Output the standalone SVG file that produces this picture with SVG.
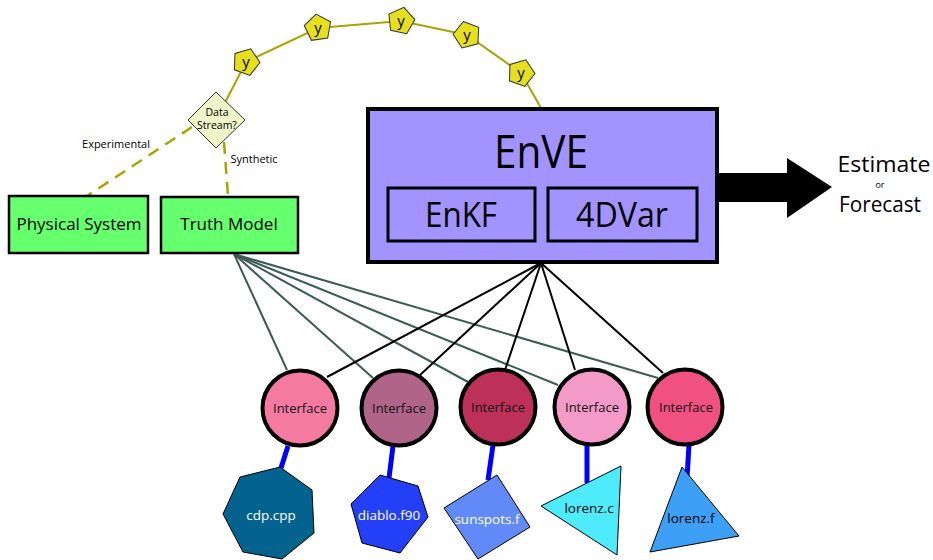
<svg xmlns="http://www.w3.org/2000/svg" width="933" height="560" viewBox="0 0 933 560">
<defs>
<style>
text{font-family:"Open Sans","Noto Sans","DejaVu Sans",sans-serif;text-anchor:middle}
.olive{stroke:#a8a400;stroke-width:2;fill:none}
.dash{stroke:#a8a400;stroke-width:2.5;fill:none;stroke-dasharray:12 8}
.tm{stroke:#3b5b55;stroke-width:2;fill:none}
.ev{stroke:#000;stroke-width:2;fill:none}
.blue{stroke:#0000ff;stroke-width:5;fill:none}
.pent{fill:#e5df1e;stroke:#333;stroke-width:1}
.green{fill:#66ff6e;stroke:#000;stroke-width:2.5}
.iface{stroke:#000;stroke-width:4}
.leaf{stroke:#000;stroke-width:1}
.lbl{font-size:11px;fill:#000}
.ift{font-size:13px;fill:#111}
.wt{font-size:13.5px;fill:#fff}
.bt{font-size:13.5px;fill:#000}
</style>
<path id="pg" d="M0,-14 L13.3,-4.3 L8.2,11.3 L-8.2,11.3 L-13.3,-4.3 Z"/>
</defs>

<g id="connectors">
<polyline class="olive" points="216,120 246,62 318,28 401,21 467,35 521,73 541,108"/>
<line class="dash" x1="192" y1="127" x2="87" y2="196"/>
<line class="dash" x1="224" y1="142" x2="228" y2="196"/>
<line class="tm" x1="234" y1="254" x2="287" y2="370"/>
<line class="tm" x1="234" y1="254" x2="373" y2="378"/>
<line class="tm" x1="234" y1="254" x2="468" y2="382"/>
<line class="tm" x1="234" y1="254" x2="558" y2="385"/>
<line class="tm" x1="234" y1="254" x2="658" y2="378"/>
<line class="ev" x1="541" y1="263" x2="327" y2="377"/>
<line class="ev" x1="541" y1="263" x2="420" y2="375"/>
<line class="ev" x1="541" y1="263" x2="505" y2="370"/>
<line class="ev" x1="541" y1="263" x2="575" y2="370"/>
<line class="ev" x1="541" y1="263" x2="663" y2="373"/>
<line class="blue" x1="288" y1="446" x2="281" y2="468"/>
<line class="blue" x1="393" y1="446" x2="389" y2="478"/>
<line class="blue" x1="493" y1="445" x2="488" y2="480"/>
<line class="blue" x1="587" y1="445" x2="587" y2="483"/>
<line class="blue" x1="689" y1="445" x2="687" y2="478"/>
</g>

<g id="y1"><use href="#pg" class="pent" transform="translate(246,62) rotate(20)"/><text x="246" y="67" font-size="15">y</text></g>
<g id="y2"><use href="#pg" class="pent" transform="translate(318,28) rotate(-8)"/><text x="318" y="33" font-size="15">y</text></g>
<g id="y3"><use href="#pg" class="pent" transform="translate(401,21) rotate(12)"/><text x="401" y="26" font-size="15">y</text></g>
<g id="y4"><use href="#pg" class="pent" transform="translate(467,35) rotate(-15)"/><text x="467" y="40" font-size="15">y</text></g>
<g id="y5"><use href="#pg" class="pent" transform="translate(521,73) rotate(20)"/><text x="521" y="78" font-size="15">y</text></g>

<g id="datastream">
<polygon points="216,92 245,120 216,148 188,120" fill="#eef5c8" stroke="#333" stroke-width="1"/>
<text x="217" y="116" font-size="10.5">Data</text>
<text x="217" y="129" font-size="10.5">Stream?</text>
</g>
<text class="lbl" x="116" y="148">Experimental</text>
<text class="lbl" x="254" y="163">Synthetic</text>

<g id="physical">
<rect class="green" x="9" y="196" width="139" height="57"/>
<text x="79" y="230" font-size="17">Physical System</text>
</g>
<g id="truth">
<rect class="green" x="161" y="197" width="137" height="56"/>
<text x="229" y="230" font-size="17">Truth Model</text>
</g>

<g id="enve">
<rect x="368" y="109" width="349" height="153" fill="#a293ff" stroke="#000" stroke-width="4"/>
<text x="541" y="168" font-size="46" textLength="94" lengthAdjust="spacingAndGlyphs">EnVE</text>
</g>
<g id="enkf">
<rect x="388" y="188" width="147" height="53" fill="#a293ff" stroke="#000" stroke-width="3"/>
<text x="461" y="227" font-size="34" textLength="72" lengthAdjust="spacingAndGlyphs">EnKF</text>
</g>
<g id="fourdvar">
<rect x="548" y="188" width="149" height="53" fill="#a293ff" stroke="#000" stroke-width="3"/>
<text x="622" y="227" font-size="34" textLength="92" lengthAdjust="spacingAndGlyphs">4DVar</text>
</g>

<g id="output">
<polygon points="717,173 787,173 787,158 832,187 787,218 787,202 717,202" fill="#000"/>
<text x="884" y="172" font-size="21" textLength="93" lengthAdjust="spacingAndGlyphs">Estimate</text>
<text x="880" y="188" font-size="9">or</text>
<text x="880" y="212" font-size="21" textLength="82" lengthAdjust="spacingAndGlyphs">Forecast</text>
</g>

<g id="if1"><circle class="iface" cx="300" cy="408" r="37.5" fill="#f57aa2"/><text class="ift" x="300" y="413">Interface</text></g>
<g id="if2"><circle class="iface" cx="399" cy="408" r="37.5" fill="#b0648a"/><text class="ift" x="399" y="413">Interface</text></g>
<g id="if3"><circle class="iface" cx="498" cy="407" r="37.5" fill="#bd3159"/><text class="ift" x="498" y="412">Interface</text></g>
<g id="if4"><circle class="iface" cx="592" cy="407" r="37.5" fill="#f39ac9"/><text class="ift" x="592" y="412">Interface</text></g>
<g id="if5"><circle class="iface" cx="685" cy="407" r="37.5" fill="#f05180"/><text class="ift" x="686" y="412">Interface</text></g>

<g id="cdp"><polygon class="leaf" points="280,467 240,477 223,514 243,552 282,559 314,533 312,490" fill="#04628f"/><text class="wt" x="271" y="520">cdp.cpp</text></g>
<g id="diablo"><polygon class="leaf" points="380,475 418,486 428,517 400,553 362,543 351,504" fill="#2340f8"/><text class="wt" x="389" y="520">diablo.f90</text></g>
<g id="sunspots"><polygon class="leaf" points="497,475 530,527 478,559 444,508" fill="#6189f8"/><text class="wt" x="487" y="524">sunspots.f</text></g>
<g id="lorenzc"><polygon class="leaf" points="621,466 617,555 541,506" fill="#4debfb"/><text class="bt" x="589" y="513">lorenz.c</text></g>
<g id="lorenzf"><polygon class="leaf" points="682,467 739,536 650,552" fill="#3d9ff5"/><text class="bt" x="691" y="523">lorenz.f</text></g>
</svg>
